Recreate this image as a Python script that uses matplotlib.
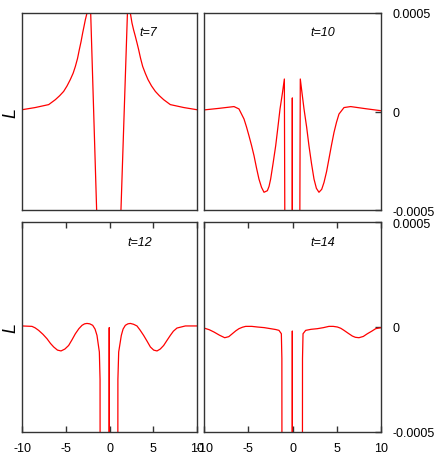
import numpy as np
import matplotlib
matplotlib.use('Agg')
import matplotlib.pyplot as plt

plt.rcParams['font.family'] = ['Liberation Sans', 'DejaVu Sans']

# values, y in units of 1e-4 (curves leave the frame where clipped)
x_t7 = [-10, -8.5, -6.95, -6.19, -5.7, -5.24, -4.85, -4.48, -4.15, -3.9, -3.65, -3.45,
        -3.25, -3.07, -2.9, -2.76, -2.57, -2.35, -2.15, -1.81, -1.47, -1.4,
        -0.5, 0.5, 1.25, 1.31, 1.68, 2.05, 2.2, 2.38, 2.57, 2.75, 2.95, 3.15, 3.33,
        3.55, 3.79, 4.1, 4.4, 4.8, 5.24, 5.7, 6.19, 6.95, 8.5, 10]
y_t7 = [0.09, 0.2, 0.35, 0.6, 0.8, 1.02, 1.3, 1.62, 1.95, 2.29, 2.7, 3.14,
        3.55, 3.98, 4.35, 4.66, 5.0, 5.4, 5.0, 0.0, -5.0, -6,
        -15, -15, -6, -5.0, 0.0, 5.0, 5.4, 5.0, 4.49, 4.15, 3.82, 3.47, 3.14,
        2.7, 2.29, 1.93, 1.62, 1.3, 1.02, 0.8, 0.6, 0.35, 0.2, 0.09]

x_t10 = [-10, -8.3, -6.61, -6.05, -5.48, -5.2, -4.92, -4.63, -4.35, -4.07, -3.79, -3.5,
         -3.22, -2.84, -2.65, -2.47, -2.2, -1.9, -1.65, -1.41, -1.15, -0.92, -0.85, -0.4,
         -0.03, -0.02, -0.01, 0.4, 0.81, 0.88, 1.1, 1.3, 1.6, 1.86, 2.15, 2.43, 2.7,
         2.99, 3.3, 3.56, 3.85, 4.12, 4.4, 4.69, 4.97, 5.25, 5.82, 6.57, 8.3, 10]
y_t10 = [0.08, 0.16, 0.25, 0.13, -0.38, -0.78, -1.23, -1.72, -2.24, -2.86, -3.43, -3.85,
         -4.1, -4.02, -3.8, -3.43, -2.65, -1.74, -0.8, 0.13, 0.9, 1.65, -8, -10,
         -8, 0.69, -8, -10, -8, 1.65, 0.85, 0.13, -0.8, -1.74, -2.65, -3.43, -3.9,
         -4.1, -3.95, -3.6, -3.05, -2.4, -1.72, -1.06, -0.55, -0.13, 0.2, 0.25, 0.14, 0.04]

x_t12 = [-10, -8.86, -8.5, -8.1, -7.6, -7.14, -6.75, -6.38, -5.95, -5.54, -5.1, -4.67,
         -4.3, -3.9, -3.5, -3.14, -2.85, -2.57, -2.25, -1.92, -1.65, -1.43, -1.16, -1.08,
         -1.07, -0.04, -0.03, -0.02, 0.95, 0.96, 1.05, 1.35, 1.55, 1.81, 2.1, 2.38, 2.75,
         3.14, 3.5, 3.9, 4.3, 4.67, 5.05, 5.43, 5.8, 6.19, 6.55, 6.95, 7.3, 7.71, 8.67, 10]
y_t12 = [0.05, 0.03, -0.04, -0.16, -0.35, -0.56, -0.78, -0.95, -1.1, -1.14, -1.05, -0.88,
         -0.62, -0.32, -0.08, 0.08, 0.15, 0.17, 0.15, 0.08, -0.1, -0.4, -1.19, -2.5,
         -8, -8, -0.03, -8, -8, -2.5, -1.19, -0.4, -0.1, 0.08, 0.15, 0.17, 0.13,
         0.05, -0.15, -0.4, -0.68, -0.95, -1.1, -1.14, -1.05, -0.88, -0.65, -0.4, -0.2, -0.05, 0.05, 0.05]

x_t14 = [-10, -9.4, -8.87, -8.25, -7.66, -7.2, -6.8, -6.4, -6.05, -5.65, -5.29, -4.6,
         -3.97, -3.2, -2.47, -1.9, -1.53, -1.26, -1.2, -1.19, -0.03, -0.02, -0.01, 1.12,
         1.13, 1.19, 1.49, 2.1, 2.81, 3.5, 4.12, 4.6, 5.07, 5.45, 5.82, 6.3, 6.76, 7.1,
         7.51, 8.0, 8.46, 8.95, 9.4, 10]
y_t14 = [-0.05, -0.13, -0.24, -0.39, -0.51, -0.46, -0.32, -0.18, -0.08, -0.01, 0.03, 0.03,
         0.0, -0.03, -0.08, -0.12, -0.16, -0.32, -1.5, -8, -8, -0.19, -8, -8,
         -1.5, -0.32, -0.16, -0.11, -0.08, -0.03, 0.03, 0.03, 0.0, -0.06, -0.16, -0.3, -0.43, -0.49,
         -0.51, -0.45, -0.32, -0.2, -0.08, -0.03]

panels = [
    (x_t7, y_t7, 't=7'),
    (x_t10, y_t10, 't=10'),
    (x_t12, y_t12, 't=12'),
    (x_t14, y_t14, 't=14'),
]
x_ticks = [-10, -5, 0, 5, 10]
y_ticks = [-0.0005, 0, 0.0005]
y_ticklabels = ['-0.0005', '0', '0.0005']

W, H = 436, 456
fig = plt.figure(figsize=(W / 100, H / 100), dpi=100)

# pixel boxes (left, top, right, bottom) of the four frames
boxes = [(22, 14, 197, 211), (204, 14, 381, 211),
         (22, 223, 197, 433), (204, 223, 381, 433)]
label_pos = [(148, 33), (323, 33), (140, 243), (323, 243)]

frame_col = '#333333'
for i, ((xs, ys, lab), (l, t, r, b)) in enumerate(zip(panels, boxes)):
    ax = fig.add_axes([l / W, 1 - b / H, (r - l) / W, (b - t) / H])
    ax.plot(xs, np.array(ys) * 1e-4, color='#ff0000', lw=0.9, clip_on=True)
    ax.set_xlim(-10, 10)
    ax.set_ylim(-0.0005, 0.0005)
    for s in ax.spines.values():
        s.set_color(frame_col)
        s.set_linewidth(1.0)
    ax.text((label_pos[i][0] - l) / (r - l), 1 - (label_pos[i][1] - t) / (b - t), lab,
            transform=ax.transAxes, fontsize=9, style='italic', ha='center', va='center')

    bottom_row = i >= 2
    right_col = i % 2 == 1
    if bottom_row:
        ax.set_xticks(x_ticks)
        ax.set_xticklabels([str(v) for v in x_ticks])
        ax.tick_params(axis='x', direction='in', top=True, bottom=True, length=4,
                       width=1, color=frame_col, labelsize=9, pad=7)
    else:
        ax.set_xticks([])
    if right_col:
        ax.yaxis.tick_right()
        ax.set_yticks(y_ticks)
        ax.set_yticklabels(y_ticklabels)
        ax.tick_params(axis='y', direction='in', left=False, right=True, length=4,
                       width=1, color=frame_col, labelsize=9, pad=8)
    else:
        ax.set_yticks([])
        fig.text(11 / W, 1 - ((t + b) / 2) / H, 'L', rotation=90, fontsize=13,
                 style='italic', ha='center', va='center')

fig.savefig('out.png', dpi=100)
